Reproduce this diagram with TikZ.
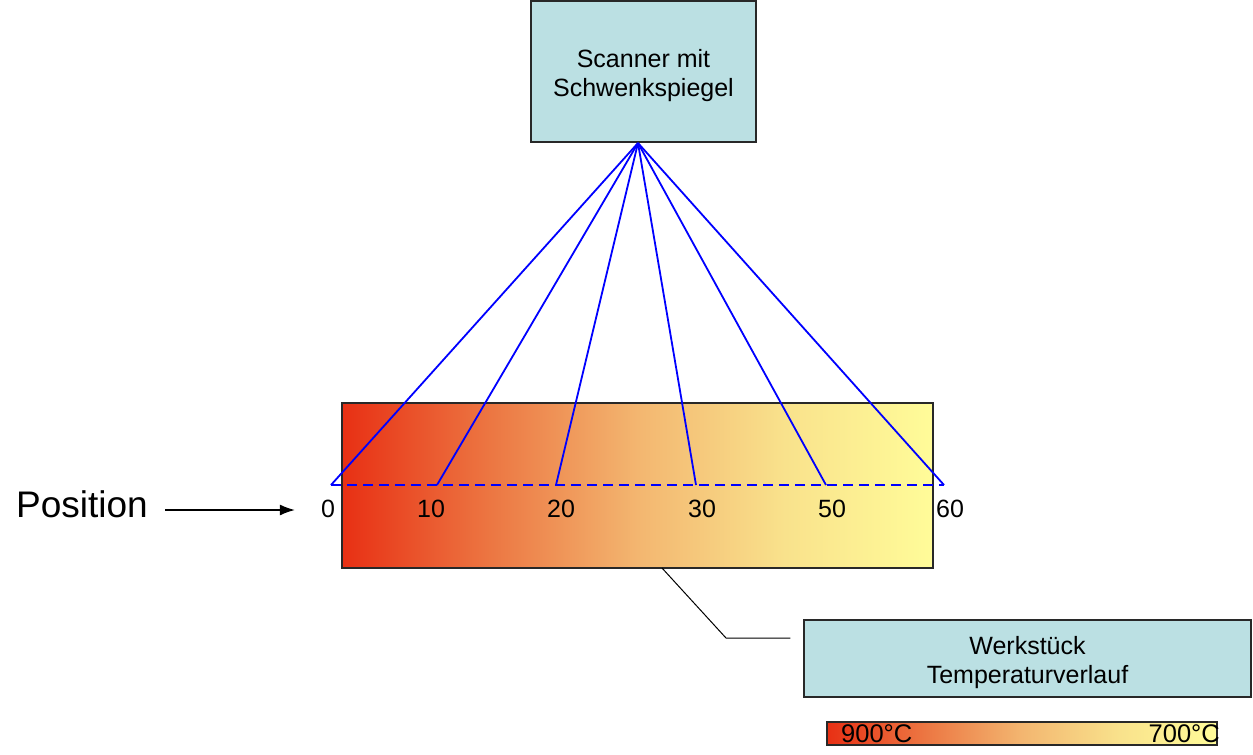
\documentclass[tikz,border=0pt]{standalone}
\usepackage{fontspec}
\setmainfont{Liberation Sans}
\usetikzlibrary{arrows.meta,positioning,calc}
\definecolor{boxfill}{RGB}{187,224,227}
\definecolor{boxline}{RGB}{40,40,40}
\definecolor{rayblue}{RGB}{0,0,255}
\definecolor{hA}{RGB}{232,48,20}
\definecolor{hB}{RGB}{236,118,66}
\definecolor{hC}{RGB}{243,182,112}
\definecolor{hD}{RGB}{249,226,140}
\definecolor{hE}{RGB}{255,252,153}
\pgfdeclarehorizontalshading{heat}{100bp}{color(0bp)=(hA); color(25bp)=(hA); color(37.5bp)=(hB); color(50bp)=(hC); color(62.5bp)=(hD); color(75bp)=(hE); color(100bp)=(hE)}
\tikzset{
  txt/.style={font=\fontsize{25}{29}\selectfont, align=center, inner sep=0pt},
  infobox/.style={draw=boxline, line width=1.5pt, fill=boxfill, inner sep=0pt},
  heatbar/.style={draw=boxline, line width=1.2pt, shading=heat},
  ray/.style={draw=rayblue, line width=1.8pt},
  scanline/.style={draw=rayblue, line width=1.8pt, dash pattern=on 10pt off 6pt},
  tick/.style={txt},
  arr/.style={draw=black, line width=1.3pt, -{Latex[length=15pt,width=11pt]}},
  callout/.style={draw=black, line width=1pt},
}
\begin{document}
\begin{tikzpicture}[x=1pt,y=-1pt]
\path[use as bounding box] (0,0) rectangle (1253,755);

% scanner box
\node[infobox, minimum width=225pt, minimum height=141pt] (scanner) at (643.5,71.5) {};
\node[txt] (scannertxt) at ([yshift=-4pt]scanner.center) {Scanner mit\\Schwenkspiegel};

% workpiece bar
\path[heatbar] (342,403) rectangle (933,568);
\node[inner sep=0pt, minimum width=591pt, minimum height=165pt] (bar) at (637.5,485.5) {};

% workpiece info box
\node[infobox, minimum width=447pt, minimum height=77pt] (werk) at (1027.5,658.5) {};
\node[txt] (werktxt) at ([yshift=-4pt]werk.center) {Werkst\"uck\\Temperaturverlauf};

% callout connector
\coordinate (cA) at (662,568);
\coordinate (cB) at (726,638);
\draw[callout] (cA) -- (cB) -- ([xshift=-13pt]werk.west |- cB);

% ray end points
\coordinate (apex) at (638,143);
\coordinate (p0) at (331,485);
\coordinate (p10) at (437,485);
\coordinate (p20) at (556,485);
\coordinate (p30) at (696,485);
\coordinate (p50) at (826,485);
\coordinate (p60) at (944,485);

\foreach \p in {p0,p10,p20,p30,p50,p60}{
  \draw[ray] (apex) -- (\p);
}
\draw[scanline] (p0) -- (p60);

% tick labels
\node[tick] (l0) at (328,509) {0};
\node[tick] (l10) at (431,509) {10};
\node[tick] (l20) at (561,509) {20};
\node[tick] (l30) at (702,509) {30};
\node[tick] (l50) at (832,509) {50};
\node[tick] (l60) at (950,509) {60};

% position label and arrow
\node[font=\fontsize{37}{44}\selectfont, inner sep=0pt] (pos) at (82,504) {Position};
\coordinate (arrS) at (165,510);
\draw[arr] (arrS) -- ([xshift=-26pt]l0.west |- arrS);

% legend
\path[heatbar, line width=1.2pt] (827,722) rectangle (1217,745);
\node[inner sep=0pt, minimum width=390pt, minimum height=23pt] (legend) at (1022,733.5) {};
\node[font=\fontsize{25.5}{30}\selectfont, inner sep=0pt, anchor=west] (t900) at (841,734) {900°C};
\node[font=\fontsize{25.5}{30}\selectfont, inner sep=0pt, anchor=east] (t700) at (1220,734) {700°C};
\end{tikzpicture}
\end{document}
